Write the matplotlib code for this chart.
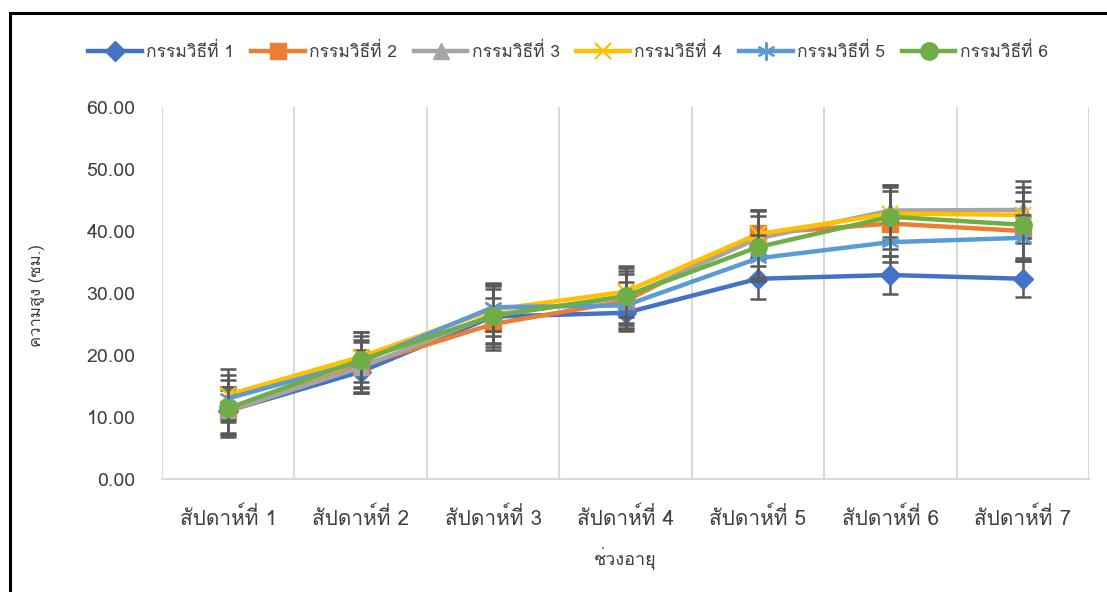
import matplotlib
matplotlib.use("Agg")
import matplotlib.pyplot as plt
from matplotlib import font_manager
from matplotlib.ft2font import FT2Font
from matplotlib.patches import Rectangle

# ---------------- data ----------------
categories = ["สัปดาห์ที่ 1", "สัปดาห์ที่ 2", "สัปดาห์ที่ 3", "สัปดาห์ที่ 4",
              "สัปดาห์ที่ 5", "สัปดาห์ที่ 6", "สัปดาห์ที่ 7"]
series_names = ["กรรมวิธีที่ 1", "กรรมวิธีที่ 2", "กรรมวิธีที่ 3",
                "กรรมวิธีที่ 4", "กรรมวิธีที่ 5", "กรรมวิธีที่ 6"]
s1 = [11.0, 17.3, 26.2, 26.8, 32.3, 32.9, 32.3]
s2 = [10.9, 18.3, 25.0, 28.7, 39.6, 41.2, 40.0]
s3 = [11.0, 18.0, 26.5, 29.3, 38.8, 43.3, 43.4]
s4 = [13.6, 19.7, 27.3, 30.2, 39.5, 42.8, 42.6]
s5 = [13.0, 18.9, 27.7, 28.0, 35.6, 38.2, 38.9]
s6 = [11.4, 19.2, 26.3, 29.5, 37.4, 42.3, 41.0]
e1 = [3.8, 3.5, 4.5, 3.0, 3.2, 3.1, 3.0]
e2 = [3.5, 4.2, 4.2, 4.3, 3.8, 5.2, 4.8]
e3 = [3.9, 4.1, 4.6, 4.2, 4.5, 4.2, 4.6]
e4 = [4.1, 4.0, 4.3, 4.1, 3.9, 4.3, 4.5]
e5 = [3.8, 4.1, 3.8, 3.8, 3.7, 3.2, 3.7]
e6 = [4.6, 4.5, 5.0, 4.6, 5.0, 5.2, 5.3]
yticks = [0, 10, 20, 30, 40, 50, 60]
ylabel = "ความสูง (ซม.)"
xlabel = "ช่วงอายุ"

# ---------------- font with Thai glyphs ----------------
def find_thai_font():
    pref = []
    others = []
    for f in font_manager.fontManager.ttflist:
        try:
            cm = FT2Font(f.fname).get_charmap()
        except Exception:
            continue
        if 0x0E01 in cm and 0x0E2A in cm:
            if f.weight in (400, "normal", "regular"):
                pref.append(f.name)
            else:
                others.append(f.name)
    lst = pref + others
    return lst[0] if lst else None

thai = find_thai_font()
families = ([thai] if thai else []) + ["DejaVu Sans"]
plt.rcParams["font.family"] = families

# ---------------- figure ----------------
W, H = 1107, 592
fig = plt.figure(figsize=(W / 100, H / 100), dpi=100)
left, right, top, bottom = 162, 1089, 107, 479
ax = fig.add_axes([left / W, 1 - bottom / H, (right - left) / W, (bottom - top) / H])

colors = ["#4472C4", "#ED7D31", "#A5A5A5", "#FFC000", "#5B9BD5", "#70AD47"]
markers = ["D", "s", "^", "x", (6, 2, 0), "o"]
msizes = [10, 11, 11, 12, 13, 12.5]
values = [s1, s2, s3, s4, s5, s6]
errors = [e1, e2, e3, e4, e5, e6]
x = list(range(len(categories)))

handles = []
for i in range(6):
    ax.errorbar(x, values[i], yerr=errors[i], fmt="none", ecolor="#595959",
                elinewidth=1.8, capsize=6, capthick=1.8, zorder=2 + i * 2)
    mk = markers[i]
    lw_m = 1.6 if mk in ("x", (6, 2, 0)) else 1
    h, = ax.plot(x, values[i], color=colors[i], lw=3.2, marker=mk,
                 ms=msizes[i], markeredgewidth=lw_m,
                 markeredgecolor=colors[i], markerfacecolor=colors[i],
                 label=series_names[i], zorder=3 + i * 2)
    handles.append(h)

ax.set_xlim(-0.5, len(categories) - 0.5)
ax.set_ylim(0, 60)
ax.set_yticks(yticks)
ax.set_yticklabels([f"{v:.2f}" for v in yticks])
ax.set_xticks(x)
ax.set_xticklabels(categories)
ax.tick_params(axis="both", length=0, colors="#404040")
ax.tick_params(axis="x", pad=20, labelsize=15)
ax.tick_params(axis="y", pad=19, labelsize=14)

# vertical gridlines at category boundaries
for b in [k + 0.5 for k in range(-1, len(categories))]:
    ax.axvline(b, color="#D9D9D9", lw=1.5, zorder=0)
for s in ["top", "right", "left"]:
    ax.spines[s].set_visible(False)
ax.spines["bottom"].set_color("#D9D9D9")
ax.spines["bottom"].set_linewidth(1.5)

fig.text(37 / W, 1 - 296 / H, ylabel, rotation=90, ha="center", va="center",
         fontsize=12, color="#404040")
fig.text(625 / W, 1 - 558 / H, xlabel, ha="center", va="center",
         fontsize=13, color="#404040")

fig.legend(handles=handles, loc="center", bbox_to_anchor=(568 / W, 1 - 52 / H),
           ncol=6, frameon=False, fontsize=12.5, handlelength=3.1,
           columnspacing=0.95, handletextpad=0.25, labelcolor="#404040")

# outer frame (black border, partly outside the image)
fig.patches.append(Rectangle((10 / W, -0.1), 1.2, 1 - 13 / H + 0.1,
                             transform=fig.transFigure, fill=False,
                             edgecolor="black", lw=2.2))

fig.savefig("out.png", dpi=100)
